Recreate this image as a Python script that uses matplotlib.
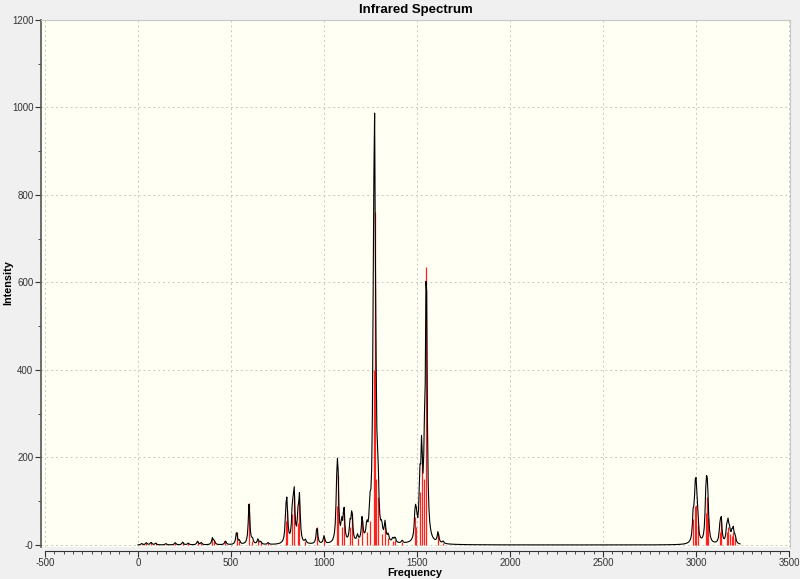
import numpy as np
import matplotlib.pyplot as plt
from matplotlib.ticker import MultipleLocator, FixedLocator, FixedFormatter

plt.rcParams['font.family'] = ['Liberation Sans', 'DejaVu Sans']
plt.rcParams['axes.unicode_minus'] = False

# stick spectrum: frequency (cm-1) and intensity
freq = np.array([20, 45, 70, 95, 150, 200, 240, 270, 320, 340, 400, 410, 470,
                 530, 545, 597, 615, 645, 660, 700,
                 795, 801, 830, 839, 860, 868, 900, 962, 1000,
                 1068, 1074, 1095, 1107, 1140, 1150, 1180, 1205, 1230, 1247,
                 1266, 1272, 1279, 1290, 1310, 1328, 1345, 1370, 1382, 1420,
                 1490, 1497, 1515, 1525, 1540, 1550, 1613, 1640,
                 2985, 2995, 3001, 3008, 3052, 3058, 3064, 3128, 3135,
                 3165, 3172, 3180, 3192, 3200, 3210])
inten = np.array([3, 5, 6, 4, 3, 5, 6, 4, 8, 5, 15, 8, 9,
                  30, 8, 95, 10, 12, 6, 4,
                  55, 80, 70, 115, 50, 100, 8, 40, 18,
                  90, 160, 40, 75, 40, 70, 15, 55, 30, 55,
                  400, 760, 150, 110, 25, 40, 15, 10, 12, 6,
                  65, 40, 120, 190, 150, 635, 25, 5,
                  60, 90, 92, 45, 72, 110, 62, 30, 55,
                  30, 40, 25, 20, 30, 15])

hwhm = 5.0
x = np.arange(0, 3240, 4.0)
curve = np.zeros_like(x)
for f0, i0 in zip(freq, inten):
    curve += i0 * hwhm**2 / ((x - f0)**2 + hwhm**2)

ytick_vals = [0, 200, 400, 600, 800, 1000, 1200]
ytick_labels = ['-0', '200', '400', '600', '800', '1000', '1200']

fig = plt.figure(figsize=(8, 5.79), dpi=100, facecolor='#f0f0f0')
ax = fig.add_axes([41/800, 1-547/579, 749/800, 527/579], facecolor='#fffff4')

ax.vlines(freq, 0, inten, color='#ff2020', lw=0.9, zorder=2)
ax.plot(x, curve, color='black', lw=0.8, zorder=3)

ax.set_xlim(-521.5, 3505)
ax.set_ylim(-4.6, 1200)

ax.xaxis.set_major_locator(MultipleLocator(500))
ax.xaxis.set_minor_locator(MultipleLocator(50))
ax.yaxis.set_major_locator(FixedLocator(ytick_vals))
ax.yaxis.set_major_formatter(FixedFormatter(ytick_labels))
ax.yaxis.set_minor_locator(MultipleLocator(100))

ax.grid(True, which='major', ls=(0, (2, 3)), color='#c8c8c8', lw=0.7, zorder=0)

ax.spines['bottom'].set_position(('outward', 3))
ax.spines['bottom'].set_bounds(-500, 3500)
ax.spines['bottom'].set_color('#333333')
ax.spines['left'].set_color('#555555')
ax.spines['left'].set_linewidth(1.2)
for s in ['top', 'right']:
    ax.spines[s].set_color('#c8c8c8')
    ax.spines[s].set_linewidth(0.8)

ax.tick_params(axis='both', which='major', direction='out', length=4,
               labelsize=7, colors='#333333', labelcolor='#333333')
ax.tick_params(axis='both', which='minor', direction='out', length=2.5, colors='#333333')
ax.tick_params(axis='x', pad=0.8)
ax.tick_params(axis='y', pad=1.5)

ax.set_title('Infrared Spectrum', fontsize=9.5, fontweight='bold', pad=5)
fig.text(415/800, 1-572.5/579, 'Frequency', fontsize=7.8, fontweight='bold',
         ha='center', va='center')
fig.text(8/800, 1-283/579, 'Intensity', fontsize=7.8, fontweight='bold',
         ha='center', va='center', rotation=90)

fig.savefig('out.png', dpi=100, facecolor=fig.get_facecolor())
